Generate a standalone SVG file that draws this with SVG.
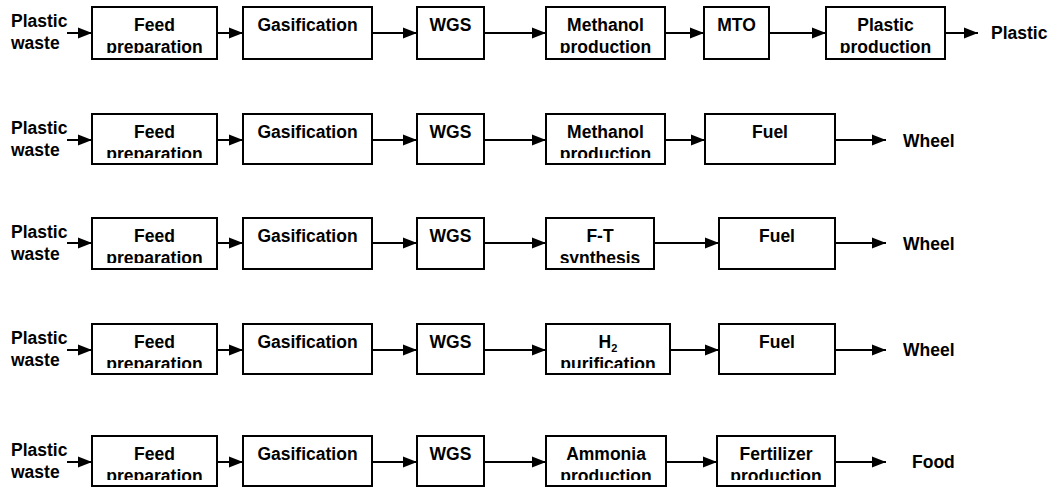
<svg xmlns="http://www.w3.org/2000/svg" width="1053" height="487" viewBox="0 0 1053 487">
  <style>
    .box { fill: #fff; stroke: #000; stroke-width: 2; }
    .lbl { font-family: "Liberation Sans", Arial, sans-serif; font-weight: bold; font-size: 17.5px; fill: #000; }
    .c { text-anchor: middle; }
    .edge { stroke: #000; stroke-width: 2; fill: none; marker-end: url(#head); }
    .sub { font-size: 11px; }
  </style>
  <defs>
    <marker id="head" markerUnits="userSpaceOnUse" markerWidth="16" markerHeight="12" viewBox="0 0 16 12" refX="15" refY="6" orient="auto">
      <path d="M1,0.5 L15,6 L1,11.5 Z" fill="#000"/>
    </marker>
    <!-- text frames of the boxes: second lines are cut off at the frame bottom -->
    <clipPath id="frames" clipPathUnits="userSpaceOnUse">
      <rect x="92" y="7" width="125" height="46"/>
      <rect x="546" y="7" width="119" height="46"/>
      <rect x="826" y="7" width="119" height="46"/>
      <rect x="92" y="114" width="125" height="44"/>
      <rect x="546" y="114" width="119" height="44"/>
      <rect x="92" y="218" width="125" height="45"/>
      <rect x="546" y="218" width="108" height="45"/>
      <rect x="92" y="324" width="125" height="44"/>
      <rect x="546" y="324" width="124" height="44"/>
      <rect x="92" y="436" width="125" height="44"/>
      <rect x="546" y="436" width="120" height="44"/>
      <rect x="717" y="436" width="118" height="44"/>
    </clipPath>
  </defs>

  <!-- Route 1: plastic to plastic via methanol-to-olefins -->
  <g id="r1-input"><text class="lbl" x="11" y="27">Plastic</text><text class="lbl" x="11" y="49">waste</text></g>
  <g id="r1-feed"><rect class="box" x="92" y="7" width="125" height="52"/><g clip-path="url(#frames)"><text class="lbl c" x="154.5" y="31">Feed</text><text class="lbl c" x="154.5" y="53">preparation</text></g></g>
  <g id="r1-gasification"><rect class="box" x="243" y="7" width="129" height="52"/><text class="lbl c" x="307.5" y="31">Gasification</text></g>
  <g id="r1-wgs"><rect class="box" x="417" y="7" width="67" height="52"/><text class="lbl c" x="450.5" y="31">WGS</text></g>
  <g id="r1-methanol"><rect class="box" x="546" y="7" width="119" height="52"/><g clip-path="url(#frames)"><text class="lbl c" x="605.5" y="31">Methanol</text><text class="lbl c" x="605.5" y="53">production</text></g></g>
  <g id="r1-mto"><rect class="box" x="704" y="7" width="65" height="52"/><text class="lbl c" x="736.5" y="31">MTO</text></g>
  <g id="r1-plastic-production"><rect class="box" x="826" y="7" width="119" height="52"/><g clip-path="url(#frames)"><text class="lbl c" x="885.5" y="31">Plastic</text><text class="lbl c" x="885.5" y="53">production</text></g></g>
  <g id="r1-output"><text class="lbl" x="991" y="39">Plastic</text></g>

  <!-- Route 2: methanol fuel -->
  <g id="r2-input"><text class="lbl" x="11" y="134">Plastic</text><text class="lbl" x="11" y="156">waste</text></g>
  <g id="r2-feed"><rect class="box" x="92" y="114" width="125" height="50"/><g clip-path="url(#frames)"><text class="lbl c" x="154.5" y="137.5">Feed</text><text class="lbl c" x="154.5" y="160">preparation</text></g></g>
  <g id="r2-gasification"><rect class="box" x="243" y="114" width="129" height="50"/><text class="lbl c" x="307.5" y="137.5">Gasification</text></g>
  <g id="r2-wgs"><rect class="box" x="417" y="114" width="67" height="50"/><text class="lbl c" x="450.5" y="137.5">WGS</text></g>
  <g id="r2-methanol"><rect class="box" x="546" y="114" width="119" height="50"/><g clip-path="url(#frames)"><text class="lbl c" x="605.5" y="137.5">Methanol</text><text class="lbl c" x="605.5" y="160">production</text></g></g>
  <g id="r2-fuel"><rect class="box" x="705" y="114" width="130" height="50"/><text class="lbl c" x="770" y="137.5">Fuel</text></g>
  <g id="r2-output"><text class="lbl" x="903" y="146.5">Wheel</text></g>

  <!-- Route 3: Fischer-Tropsch fuel -->
  <g id="r3-input"><text class="lbl" x="11" y="238">Plastic</text><text class="lbl" x="11" y="260">waste</text></g>
  <g id="r3-feed"><rect class="box" x="92" y="218" width="125" height="51"/><g clip-path="url(#frames)"><text class="lbl c" x="154.5" y="241.5">Feed</text><text class="lbl c" x="154.5" y="264">preparation</text></g></g>
  <g id="r3-gasification"><rect class="box" x="243" y="218" width="129" height="51"/><text class="lbl c" x="307.5" y="241.5">Gasification</text></g>
  <g id="r3-wgs"><rect class="box" x="417" y="218" width="67" height="51"/><text class="lbl c" x="450.5" y="241.5">WGS</text></g>
  <g id="r3-ft"><rect class="box" x="546" y="218" width="108" height="51"/><g clip-path="url(#frames)"><text class="lbl c" x="600" y="241.5">F-T</text><text class="lbl c" x="600" y="264">synthesis</text></g></g>
  <g id="r3-fuel"><rect class="box" x="719" y="218" width="116" height="51"/><text class="lbl c" x="777" y="241.5">Fuel</text></g>
  <g id="r3-output"><text class="lbl" x="903" y="250">Wheel</text></g>

  <!-- Route 4: hydrogen fuel -->
  <g id="r4-input"><text class="lbl" x="11" y="344">Plastic</text><text class="lbl" x="11" y="366">waste</text></g>
  <g id="r4-feed"><rect class="box" x="92" y="324" width="125" height="50"/><g clip-path="url(#frames)"><text class="lbl c" x="154.5" y="347.5">Feed</text><text class="lbl c" x="154.5" y="370">preparation</text></g></g>
  <g id="r4-gasification"><rect class="box" x="243" y="324" width="129" height="50"/><text class="lbl c" x="307.5" y="347.5">Gasification</text></g>
  <g id="r4-wgs"><rect class="box" x="417" y="324" width="67" height="50"/><text class="lbl c" x="450.5" y="347.5">WGS</text></g>
  <g id="r4-h2"><rect class="box" x="546" y="324" width="124" height="50"/><g clip-path="url(#frames)"><text class="lbl c" x="608" y="347.5">H<tspan class="sub" dy="4">2</tspan></text><text class="lbl c" x="608" y="370">purification</text></g></g>
  <g id="r4-fuel"><rect class="box" x="719" y="324" width="116" height="50"/><text class="lbl c" x="777" y="347.5">Fuel</text></g>
  <g id="r4-output"><text class="lbl" x="903" y="356">Wheel</text></g>

  <!-- Route 5: ammonia to fertilizer -->
  <g id="r5-input"><text class="lbl" x="11" y="456">Plastic</text><text class="lbl" x="11" y="478">waste</text></g>
  <g id="r5-feed"><rect class="box" x="92" y="436" width="125" height="50"/><g clip-path="url(#frames)"><text class="lbl c" x="154.5" y="459.5">Feed</text><text class="lbl c" x="154.5" y="482">preparation</text></g></g>
  <g id="r5-gasification"><rect class="box" x="243" y="436" width="129" height="50"/><text class="lbl c" x="307.5" y="459.5">Gasification</text></g>
  <g id="r5-wgs"><rect class="box" x="417" y="436" width="67" height="50"/><text class="lbl c" x="450.5" y="459.5">WGS</text></g>
  <g id="r5-ammonia"><rect class="box" x="546" y="436" width="120" height="50"/><g clip-path="url(#frames)"><text class="lbl c" x="606" y="459.5">Ammonia</text><text class="lbl c" x="606" y="482">production</text></g></g>
  <g id="r5-fertilizer"><rect class="box" x="717" y="436" width="118" height="50"/><g clip-path="url(#frames)"><text class="lbl c" x="776" y="459.5">Fertilizer</text><text class="lbl c" x="776" y="482">production</text></g></g>
  <g id="r5-output"><text class="lbl" x="912" y="468">Food</text></g>

  <g id="connectors">
    <!-- route 1 -->
    <line class="edge" x1="67" y1="33" x2="92" y2="33"/>
    <line class="edge" x1="217" y1="33" x2="243" y2="33"/>
    <line class="edge" x1="372" y1="33" x2="417" y2="33"/>
    <line class="edge" x1="484" y1="33" x2="546" y2="33"/>
    <line class="edge" x1="665" y1="33" x2="704" y2="33"/>
    <line class="edge" x1="769" y1="33" x2="826" y2="33"/>
    <line class="edge" x1="945" y1="33" x2="978" y2="33"/>
    <!-- route 2 -->
    <line class="edge" x1="67" y1="140" x2="92" y2="140"/>
    <line class="edge" x1="217" y1="140" x2="243" y2="140"/>
    <line class="edge" x1="372" y1="140" x2="417" y2="140"/>
    <line class="edge" x1="484" y1="140" x2="546" y2="140"/>
    <line class="edge" x1="665" y1="140" x2="705" y2="140"/>
    <line class="edge" x1="835" y1="140" x2="886" y2="140"/>
    <!-- route 3 -->
    <line class="edge" x1="67" y1="243" x2="92" y2="243"/>
    <line class="edge" x1="217" y1="243" x2="243" y2="243"/>
    <line class="edge" x1="372" y1="243" x2="417" y2="243"/>
    <line class="edge" x1="484" y1="243" x2="546" y2="243"/>
    <line class="edge" x1="654" y1="243" x2="719" y2="243"/>
    <line class="edge" x1="835" y1="243" x2="886" y2="243"/>
    <!-- route 4 -->
    <line class="edge" x1="67" y1="350" x2="92" y2="350"/>
    <line class="edge" x1="217" y1="350" x2="243" y2="350"/>
    <line class="edge" x1="372" y1="350" x2="417" y2="350"/>
    <line class="edge" x1="484" y1="350" x2="546" y2="350"/>
    <line class="edge" x1="670" y1="350" x2="719" y2="350"/>
    <line class="edge" x1="835" y1="350" x2="886" y2="350"/>
    <!-- route 5 -->
    <line class="edge" x1="67" y1="462" x2="92" y2="462"/>
    <line class="edge" x1="217" y1="462" x2="243" y2="462"/>
    <line class="edge" x1="372" y1="462" x2="417" y2="462"/>
    <line class="edge" x1="484" y1="462" x2="546" y2="462"/>
    <line class="edge" x1="666" y1="462" x2="717" y2="462"/>
    <line class="edge" x1="835" y1="462" x2="886" y2="462"/>
  </g>
</svg>
